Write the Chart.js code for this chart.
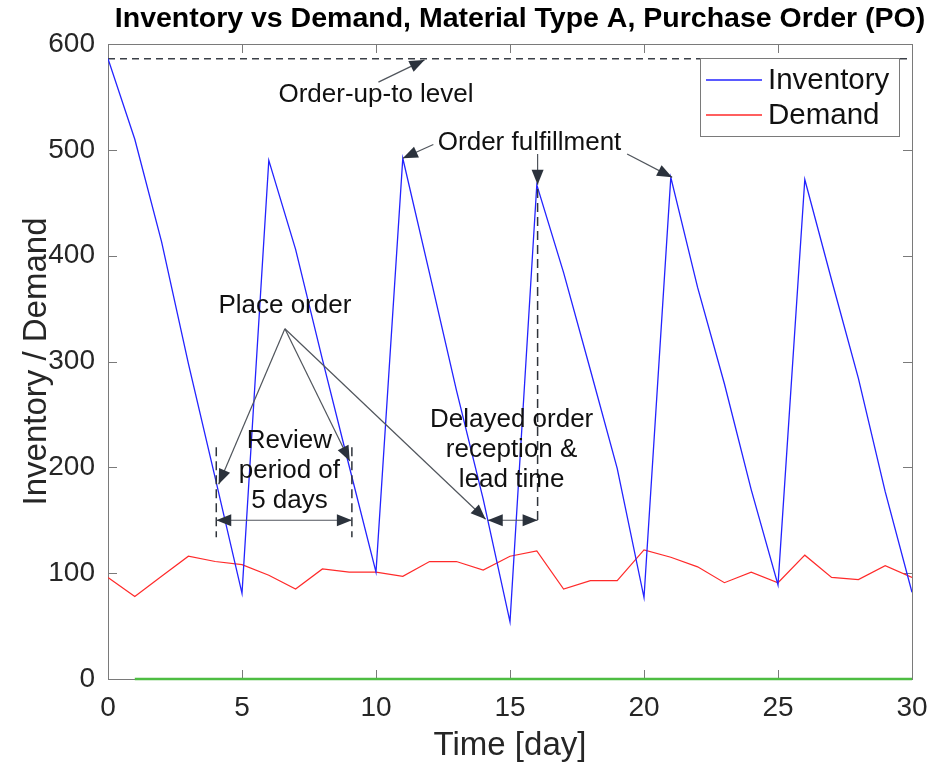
<!DOCTYPE html>
<html>
<head>
<meta charset="utf-8">
<title>Inventory vs Demand</title>
<script src="https://cdn.jsdelivr.net/npm/chart.js@4.4.1/dist/chart.umd.min.js"></script>
<style>
  html, body { margin: 0; padding: 0; background: #fff; }
</style>
</head>
<body>
<canvas id="myChart" width="935" height="763"></canvas>
<script>
// daily series, material type A (PO policy)
const days = [0, 1, 2, 3, 4, 5, 6, 7, 8, 9, 10, 11, 12, 13, 14, 15, 16, 17, 18, 19, 20, 21, 22, 23, 24, 25, 26, 27, 28, 29, 30];
const inventory = [586, 510, 413, 298, 190, 81, 490, 406, 302, 201, 101, 492, 383, 273, 170, 54, 467, 384, 292, 199, 77, 474, 370, 279, 179, 89, 472, 377, 284, 177, 82];
const demand = [96, 78, 97, 116, 111, 108, 98, 85, 104, 101, 101, 97, 111, 111, 103, 116, 121, 85, 93, 93, 122, 115, 106, 91, 101, 91, 117, 96, 94, 107, 96];
const backlog = [null, 0, 0, 0, 0, 0, 0, 0, 0, 0, 0, 0, 0, 0, 0, 0, 0, 0, 0, 0, 0, 0, 0, 0, 0, 0, 0, 0, 0, 0, 0];
const orderUpToLevel = 586;

const xTicks = [0, 5, 10, 15, 20, 25, 30];
const yTicks = [0, 100, 200, 300, 400, 500, 600];

const FONT = "'Liberation Sans', Arial, Helvetica, sans-serif";

// text notes, anchored in data units (x = day, y = units)
const notes = [
  { lines: ['Order-up-to level'], x: 10.0, y: 552 },
  { lines: ['Order fulfillment'], x: 15.73, y: 507 },
  { lines: ['Place order'], x: 6.6, y: 353 },
  { lines: ['Review', 'period of', '5 days'], x: 6.77, y: 197 },
  { lines: ['Delayed order', 'reception &', 'lead time'], x: 15.06, y: 217 }
];

// arrows, head at "to"
const arrows = [
  { from: [10.09, 564], to: [11.81, 585] },
  { from: [12.14, 505], to: [11.0, 492] },
  { from: [16.03, 496], to: [16.03, 467] },
  { from: [19.37, 496], to: [21.05, 474] },
  { from: [6.6, 331], to: [4.13, 184] },
  { from: [6.6, 331], to: [9.02, 206] },
  { from: [6.6, 331], to: [14.09, 151] }
];

// interval arrows, heads at both ends
const spans = [
  { x0: 4.04, x1: 9.1, y: 150 },
  { x0: 14.17, x1: 16.03, y: 150 }
];

// dashed markers
const markers = [
  { x: 4.04, y0: 219, y1: 134 },
  { x: 9.1, y0: 219, y1: 134 },
  { x: 16.03, y0: 463, y1: 148 }
];

function toPoints(values) {
  return days.map((d, i) => ({ x: d, y: values[i] }));
}

function drawHead(ctx, x0, y0, x1, y1) {
  const a = Math.atan2(y1 - y0, x1 - x0);
  const len = 15, half = 6;
  ctx.beginPath();
  ctx.moveTo(x1, y1);
  ctx.lineTo(x1 - len * Math.cos(a) + half * Math.sin(a), y1 - len * Math.sin(a) - half * Math.cos(a));
  ctx.lineTo(x1 - len * Math.cos(a) - half * Math.sin(a), y1 - len * Math.sin(a) + half * Math.cos(a));
  ctx.closePath();
  ctx.fill();
}

// box around the axes with inward ticks on all four sides
const framePlugin = {
  id: 'frame',
  beforeDatasetsDraw(chart) {
    const { ctx, chartArea: a, scales: { x, y } } = chart;
    const tl = 9;
    ctx.save();
    ctx.strokeStyle = '#7a7a7a';
    ctx.lineWidth = 1;
    ctx.strokeRect(a.left + 0.5, a.top + 0.5, a.right - a.left, a.bottom - a.top);
    ctx.beginPath();
    xTicks.forEach(v => {
      const px = Math.round(x.getPixelForValue(v)) + 0.5;
      ctx.moveTo(px, a.bottom); ctx.lineTo(px, a.bottom - tl);
      ctx.moveTo(px, a.top); ctx.lineTo(px, a.top + tl);
    });
    yTicks.forEach(v => {
      const py = Math.round(y.getPixelForValue(v)) + 0.5;
      ctx.moveTo(a.left, py); ctx.lineTo(a.left + tl, py);
      ctx.moveTo(a.right, py); ctx.lineTo(a.right - tl, py);
    });
    ctx.stroke();
    ctx.restore();
  }
};

// annotations, legend and title
const notesPlugin = {
  id: 'notes',
  afterDraw(chart) {
    const { ctx, chartArea: a, scales: { x, y } } = chart;
    const px = v => x.getPixelForValue(v);
    const py = v => y.getPixelForValue(v);
    ctx.save();

    // dashed markers
    ctx.strokeStyle = '#2f343b';
    ctx.lineWidth = 1.5;
    ctx.setLineDash([9, 5]);
    markers.forEach(m => {
      ctx.beginPath();
      ctx.moveTo(px(m.x), py(m.y0));
      ctx.lineTo(px(m.x), py(m.y1));
      ctx.stroke();
    });
    ctx.setLineDash([]);

    // pointer arrows
    ctx.strokeStyle = '#50555c';
    ctx.fillStyle = '#2b323c';
    ctx.lineWidth = 1.2;
    arrows.forEach(ar => {
      const x0 = px(ar.from[0]), y0 = py(ar.from[1]);
      const x1 = px(ar.to[0]), y1 = py(ar.to[1]);
      ctx.beginPath();
      ctx.moveTo(x0, y0);
      ctx.lineTo(x1, y1);
      ctx.stroke();
      drawHead(ctx, x0, y0, x1, y1);
    });

    spans.forEach(s => {
      const x0 = px(s.x0), x1 = px(s.x1), yy = py(s.y);
      ctx.beginPath();
      ctx.moveTo(x0, yy);
      ctx.lineTo(x1, yy);
      ctx.stroke();
      drawHead(ctx, x1, yy, x0, yy);
      drawHead(ctx, x0, yy, x1, yy);
    });

    // note text
    ctx.fillStyle = '#111';
    ctx.font = `26px ${FONT}`;
    ctx.textAlign = 'center';
    ctx.textBaseline = 'middle';
    notes.forEach(n => {
      const cx = px(n.x), cy = py(n.y);
      const step = 30;
      const first = cy - step * (n.lines.length - 1) / 2;
      n.lines.forEach((t, i) => ctx.fillText(t, cx, first + i * step));
    });

    // legend
    const items = [
      { text: 'Inventory', color: chart.data.datasets[0].borderColor },
      { text: 'Demand', color: chart.data.datasets[1].borderColor }
    ];
    const bw = 199, bh = 78;
    const bx = a.right - 13 - bw, by = a.top + 14;
    ctx.fillStyle = '#fff';
    ctx.fillRect(bx, by, bw, bh);
    ctx.strokeStyle = '#7a7a7a';
    ctx.lineWidth = 1;
    ctx.strokeRect(bx + 0.5, by + 0.5, bw, bh);
    ctx.font = `29.5px ${FONT}`;
    ctx.textAlign = 'left';
    items.forEach((it, i) => {
      const ly = by + 22 + i * 35;
      ctx.strokeStyle = it.color;
      ctx.lineWidth = 1.3;
      ctx.beginPath();
      ctx.moveTo(bx + 6, ly);
      ctx.lineTo(bx + 62, ly);
      ctx.stroke();
      ctx.fillStyle = '#111';
      ctx.fillText(it.text, bx + 68, ly + 1);
    });

    // title
    ctx.fillStyle = '#000';
    ctx.font = `bold 28.5px ${FONT}`;
    ctx.textAlign = 'center';
    ctx.fillText('Inventory vs Demand, Material Type A, Purchase Order (PO)', (a.left + a.right) / 2 + 10, 19);

    ctx.restore();
  }
};

const ctx = document.getElementById('myChart').getContext('2d');

new Chart(ctx, {
  type: 'line',
  data: {
    datasets: [
      { label: 'Inventory', data: toPoints(inventory), borderColor: '#2323ff', borderWidth: 1.3 },
      { label: 'Demand', data: toPoints(demand), borderColor: '#ff2a2a', borderWidth: 1.2 },
      { label: 'Backlog', data: toPoints(backlog), borderColor: '#4dbd42', borderWidth: 2.5, clip: false },
      {
        label: 'Order-up-to level',
        data: [{ x: days[0], y: orderUpToLevel }, { x: days[days.length - 1], y: orderUpToLevel }],
        borderColor: '#3a3f47', borderWidth: 1.5, borderDash: [7, 5]
      }
    ]
  },
  options: {
    responsive: false,
    animation: false,
    devicePixelRatio: 1,
    layout: { padding: { top: 44, right: 23, left: 0, bottom: 0 } },
    elements: { point: { radius: 0 }, line: { tension: 0 } },
    plugins: {
      legend: { display: false },
      title: { display: false },
      tooltip: { enabled: false }
    },
    scales: {
      x: {
        type: 'linear',
        min: 0,
        max: 30,
        afterBuildTicks: s => { s.ticks = xTicks.map(v => ({ value: v })); },
        afterFit: s => { s.height = 84; s.paddingLeft = 0; s.paddingRight = 0; },
        grid: { display: false, drawTicks: false },
        border: { display: false },
        ticks: { font: { family: FONT, size: 28 }, color: '#262626', padding: 12, maxRotation: 0 },
        title: {
          display: true,
          text: 'Time [day]',
          font: { family: FONT, size: 33, lineHeight: 1.05 },
          color: '#262626',
          padding: { top: 0, bottom: 0 }
        }
      },
      y: {
        min: 0,
        max: 600,
        afterBuildTicks: s => { s.ticks = yTicks.map(v => ({ value: v })); },
        afterFit: s => { s.width = 108; s.paddingTop = 0; s.paddingBottom = 0; },
        grid: { display: false, drawTicks: false },
        border: { display: false },
        ticks: { font: { family: FONT, size: 28 }, color: '#262626', padding: 13 },
        title: {
          display: true,
          text: 'Inventory / Demand',
          font: { family: FONT, size: 33 },
          color: '#262626',
          padding: { top: 17, bottom: 0 }
        }
      }
    }
  },
  plugins: [framePlugin, notesPlugin]
});
</script>
</body>
</html>
